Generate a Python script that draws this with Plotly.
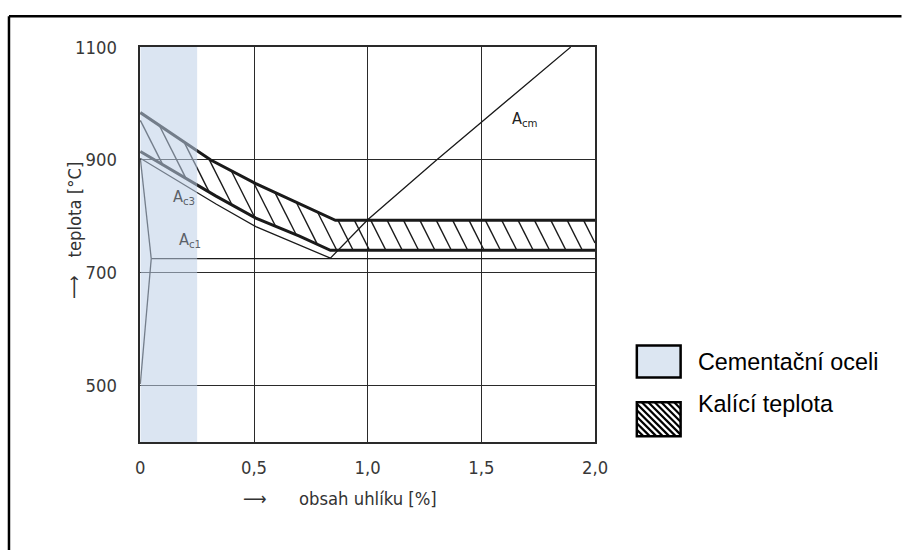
import numpy as np
import plotly.graph_objects as go

W, H = 904, 550

# ---------------- data ----------------
X_TICKS = [0, 0.5, 1.0, 1.5, 2.0]
X_TICK_TEXT = ["0", "0,5", "1,0", "1,5", "2,0"]
Y_TICKS = [500, 700, 900, 1100]
Y_TICK_TEXT = ["500", "700", "900", "1100"]
X_RANGE = [0, 2.0]
Y_RANGE = [400, 1100]

CEMENT_MAX_C = 0.25          # cementation steels: up to 0.25 % C

# hardening temperature band (upper / lower bound)
UPPER_C = [0.0, 0.31, 0.508, 0.70, 0.858, 2.0]
UPPER_T = [984, 900, 858, 822, 793, 793]
LOWER_C = [0.0, 0.333, 0.508, 0.70, 0.836, 2.0]
LOWER_T = [915, 836, 797, 765, 740, 740]

# phase lines
AC3_C = [0.0, 0.333, 0.508, 0.836]
AC3_T = [903, 822, 782, 726]
ACM_C = [0.836, 1.0, 1.303, 1.893]
ACM_T = [726, 794, 900, 1100]
A1_C = [0.048, 2.0]
A1_T = [725, 725]
GP_C = [0.0, 0.048]
GP_T = [903, 725]
PQ_C = [0.048, 0.0]
PQ_T = [725, 503]

LABELS = [("A", "c3", 0.19, 833), ("A", "c1", 0.22, 757), ("A", "cm", 1.69, 972)]

X_TITLE = "obsah uhlíku [%]"
Y_TITLE = "teplota [°C]"
LEGEND_ITEMS = ["Cementační oceli", "Kalící teplota"]

# hatch style (slope in °C per % C, step in % C)
HATCH_SLOPE = -800.0
HATCH_STEP = 0.072
HATCH_PHASE = -0.037

# ---------------- layout geometry (target pixels) ----------------
PL, PR, PT, PB = 139, 596, 45, 442
# compensation for the viewer's capture (scale + offset)
S, OX, OY = 0.985, 3.0, 8.7


def fx(px):
    return ((px - OX) / S) / W


def fy(py):
    return 1 - ((py - OY) / S) / H


def fs(size):
    return size / S


fig = go.Figure()

LINE_COL = "#1a1a1a"

# hatch lines computed by clipping between the band boundaries
xg = np.linspace(0, 2.0, 40001)
up = np.interp(xg, UPPER_C, UPPER_T)
lo = np.interp(xg, LOWER_C, LOWER_T)
hx, hy = [], []
for c in np.arange(HATCH_PHASE - 10 * HATCH_STEP, 2.2, HATCH_STEP):
    th = 1000 + HATCH_SLOPE * (xg - c)
    m = (th <= up) & (th >= lo)
    if m.sum() < 2:
        continue
    idx = np.where(m)[0]
    i0, i1 = idx[0], idx[-1]
    hx += [xg[i0], xg[i1], None]
    hy += [th[i0], th[i1], None]

fig.add_trace(go.Scatter(x=hx, y=hy, mode="lines",
                         line=dict(color=LINE_COL, width=1.4),
                         hoverinfo="skip", showlegend=False))

thin = dict(color=LINE_COL, width=1.3)
for cx, ty in [(AC3_C, AC3_T), (ACM_C, ACM_T), (A1_C, A1_T), (GP_C, GP_T), (PQ_C, PQ_T)]:
    fig.add_trace(go.Scatter(x=cx, y=ty, mode="lines", line=thin,
                             hoverinfo="skip", showlegend=False))

thick = dict(color=LINE_COL, width=3)
for cx, ty in [(UPPER_C, UPPER_T), (LOWER_C, LOWER_T)]:
    fig.add_trace(go.Scatter(x=cx, y=ty, mode="lines", line=thick,
                             hoverinfo="skip", showlegend=False))

FONT_FAM = "DejaVu Sans Condensed, Liberation Sans Narrow, DejaVu Sans"
tick_font = dict(family=FONT_FAM, size=fs(18), color="#383838")

fig.update_layout(
    width=W, height=H,
    margin=dict(l=0, r=0, t=0, b=0),
    paper_bgcolor="white", plot_bgcolor="white",
    showlegend=False,
    xaxis=dict(domain=[fx(PL), fx(PR)], range=X_RANGE, tickvals=X_TICKS,
               ticktext=X_TICK_TEXT, showgrid=True, gridcolor="#2a2a2a",
               gridwidth=1.3, zeroline=False, showline=True, mirror=True,
               linecolor="#2a2a2a", linewidth=1.5, ticks="", ticklabelstandoff=8,
               tickfont=tick_font, fixedrange=True),
    yaxis=dict(domain=[fy(PB), fy(PT)], range=Y_RANGE, tickvals=Y_TICKS,
               ticktext=Y_TICK_TEXT, showgrid=True, gridcolor="#2a2a2a",
               gridwidth=1.3, zeroline=False, showline=True, mirror=True,
               linecolor="#2a2a2a", linewidth=1.5, ticks="", ticklabelstandoff=18,
               tickfont=tick_font, fixedrange=True),
)

shapes = []
# cementation steel region (semi-transparent overlay)
shapes.append(dict(type="rect", xref="x", yref="y", x0=0, x1=CEMENT_MAX_C,
                   y0=Y_RANGE[0], y1=Y_RANGE[1], layer="above",
                   fillcolor="rgba(190,208,232,0.55)", line=dict(width=0)))
# legend boxes
BOX1 = (638, 682, 345, 377)
BOX2 = (638, 682, 402, 436)
shapes.append(dict(type="rect", xref="paper", yref="paper",
                   x0=fx(BOX1[0]), x1=fx(BOX1[1]), y0=fy(BOX1[3]), y1=fy(BOX1[2]),
                   fillcolor="#dce6f2", line=dict(color="black", width=2.5)))
# hatch swatch lines ("\" direction), clipped to the box
bx0, bx1, by0, by1 = BOX2
step = 6.5
d = -(by1 - by0)
while d < (bx1 - bx0):
    t0 = max(0, -d)
    t1 = min(by1 - by0, (bx1 - bx0) - d)
    if t1 > t0:
        shapes.append(dict(type="line", xref="paper", yref="paper",
                           x0=fx(bx0 + d + t0), y0=fy(by0 + t0),
                           x1=fx(bx0 + d + t1), y1=fy(by0 + t1),
                           line=dict(color="black", width=2.2)))
    d += step
shapes.append(dict(type="rect", xref="paper", yref="paper",
                   x0=fx(bx0), x1=fx(bx1), y0=fy(by1), y1=fy(by0),
                   fillcolor="rgba(0,0,0,0)", line=dict(color="black", width=2.5)))
# outer frame (top and left edges)
shapes.append(dict(type="line", xref="paper", yref="paper",
                   x0=fx(7), x1=fx(904), y0=fy(14), y1=fy(14),
                   line=dict(color="black", width=2.5)))
shapes.append(dict(type="line", xref="paper", yref="paper",
                   x0=fx(7), x1=fx(7), y0=fy(14), y1=0.0,
                   line=dict(color="black", width=2.5)))
fig.update_layout(shapes=shapes)

ann = []
for main, sub, cx, ty in LABELS:
    col = "#5a6068" if cx < CEMENT_MAX_C else "#222222"
    ann.append(dict(x=cx, y=ty, xref="x", yref="y", showarrow=False,
                    text=f"{main}<sub>{sub}</sub>",
                    font=dict(family=FONT_FAM, size=fs(16), color=col)))
title_font = dict(family=FONT_FAM, size=fs(18), color="#333333")
# x title with arrow
ann.append(dict(x=fx(240), y=fy(511), xref="paper", yref="paper", showarrow=False,
                text="⟶", font=title_font))
ann.append(dict(x=fx(296), y=fy(511), xref="paper", yref="paper", showarrow=False,
                xanchor="left", text=X_TITLE, font=title_font))
# y title with arrow
ann.append(dict(x=fx(60), y=fy(286), xref="paper", yref="paper", showarrow=False,
                textangle=-90, text="⟶", font=title_font))
ann.append(dict(x=fx(60), y=fy(208), xref="paper", yref="paper", showarrow=False,
                textangle=-90, text=Y_TITLE, font=title_font))
legend_font = dict(family="Liberation Sans, Arial, sans-serif", size=fs(23), color="black")
ann.append(dict(x=fx(697), y=fy(361), xref="paper", yref="paper", showarrow=False,
                xanchor="left", text=LEGEND_ITEMS[0], font=legend_font))
ann.append(dict(x=fx(697), y=fy(419), xref="paper", yref="paper", showarrow=False,
                xanchor="left", text=LEGEND_ITEMS[1], font=legend_font))
fig.update_layout(annotations=ann)

fig.write_html("out.html", config={"displayModeBar": False},
               post_script="document.body.style.margin='0';"
                           "document.documentElement.style.overflow='hidden';"
                           "document.body.style.overflow='hidden';")
